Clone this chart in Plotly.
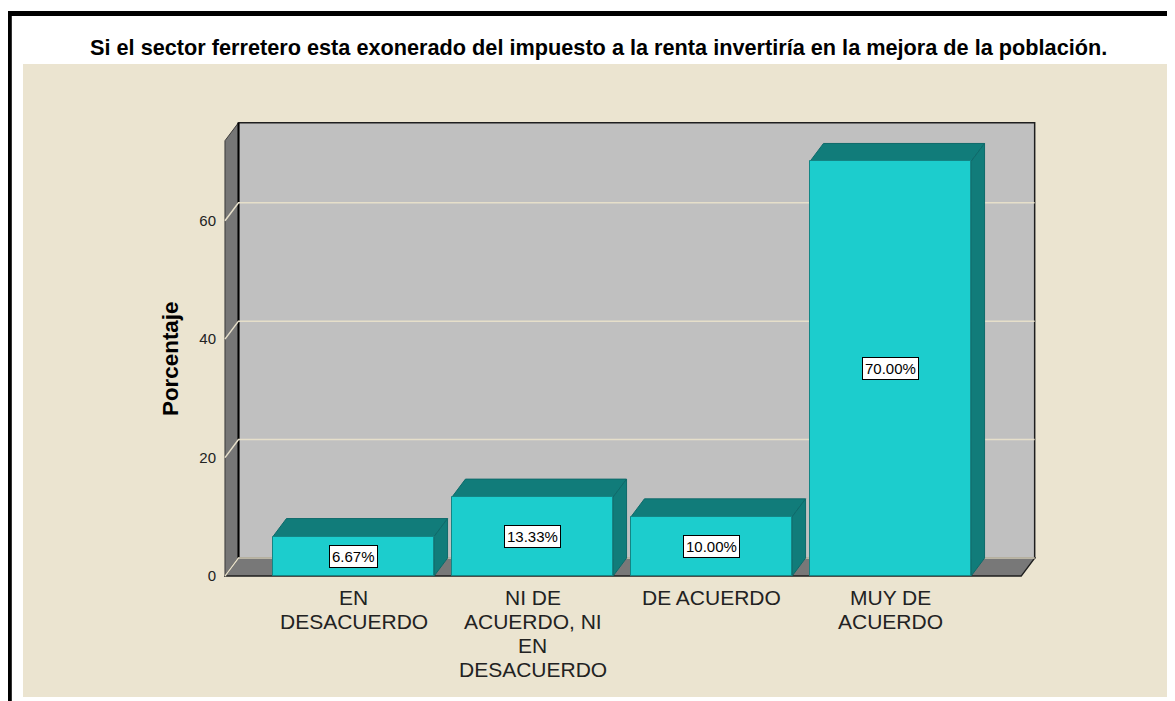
import plotly.graph_objects as go

# ---------------- data ----------------
title_text = "Si el sector ferretero esta exonerado del impuesto a la renta invertiría en la mejora de la población."
categories = ["EN\nDESACUERDO", "NI DE\nACUERDO, NI\nEN\nDESACUERDO", "DE ACUERDO", "MUY DE\nACUERDO"]
percentages = [6.67, 13.33, 10.00, 70.00]
y_ticks = [0, 20, 40, 60]
y_title = "Porcentaje"

# ---------------- layout constants ----------------
W, H = 1175, 701
PAGE_OFF = 8              # default body margin of the page
ML, MR, MT, MB = 216, 143, 112, 127
PW, PH = W - ML - MR, H - MT - MB
CAT_PX = 179.0            # pixels per category
FIRST_CENTER_PX = 353.5 - PAGE_OFF
XR = [(ML - FIRST_CENTER_PX) / CAT_PX, (W - MR - FIRST_CENTER_PX) / CAT_PX]
YR = [-1, 77]
PX_PER_Y = PH / (YR[1] - YR[0])
DX = 13.5 / CAT_PX        # depth offset (x units)
DY = 18.0 / PX_PER_Y      # depth offset (y units)
BAR_W = 0.9
FLOOR_X0, FLOOR_X1 = -0.718, 3.73
WALL_TOP = 73.5
LINE_PITCH = 24
CAT_FONT = 21

FONT = "Liberation Sans, Arial, sans-serif"
BEIGE = "#EBE4D0"
WALL = "#C0C0C0"
SIDE = "#767676"
FLOOR = "#787878"
EDGE = "#1E1E1E"
GRID = "#E6DFCA"
BAR_FRONT = "#1CCDCD"
BAR_DARK = "#117C7A"
BAR_EDGE = "#0E6A6A"


def px2x(px):
    """page pixel -> paper x"""
    return (px - PAGE_OFF - ML) / PW


def py2y(py):
    """page pixel -> paper y"""
    return (H - MB - (py - PAGE_OFF)) / PH


def poly(pts):
    return "M " + " L ".join(f"{x},{y}" for x, y in pts) + " Z"


shapes = []
# beige panel
shapes.append(dict(type="rect", xref="paper", yref="paper", layer="below",
                   x0=px2x(23), x1=px2x(1171), y0=py2y(697), y1=py2y(64),
                   fillcolor=BEIGE, line=dict(width=0)))
# black frame (left & top)
shapes.append(dict(type="line", xref="paper", yref="paper", layer="below",
                   x0=px2x(9.3), x1=px2x(9.3), y0=py2y(11), y1=py2y(H + 20),
                   line=dict(color="black", width=5)))
shapes.append(dict(type="line", xref="paper", yref="paper", layer="below",
                   x0=px2x(7), x1=px2x(W + 20), y0=py2y(13.5), y1=py2y(13.5),
                   line=dict(color="black", width=5)))

# back wall
shapes.append(dict(type="rect", xref="x", yref="y", layer="below",
                   x0=FLOOR_X0 + DX, x1=FLOOR_X1 + DX, y0=DY, y1=WALL_TOP + DY,
                   fillcolor=WALL, line=dict(color=EDGE, width=1.5)))
# side wall
shapes.append(dict(type="path", xref="x", yref="y", layer="below",
                   path=poly([(FLOOR_X0, 0), (FLOOR_X0 + DX, DY), (FLOOR_X0 + DX, WALL_TOP + DY),
                              (FLOOR_X0, WALL_TOP)]),
                   fillcolor=SIDE, line=dict(color="#3A3A3A", width=1)))
# dark edge between side wall and back wall
shapes.append(dict(type="line", xref="x", yref="y", layer="below",
                   x0=FLOOR_X0 + DX, x1=FLOOR_X0 + DX, y0=DY, y1=WALL_TOP + DY,
                   line=dict(color="black", width=2)))
# floor
shapes.append(dict(type="path", xref="x", yref="y", layer="below",
                   path=poly([(FLOOR_X0, 0), (FLOOR_X1, 0), (FLOOR_X1 + DX, DY), (FLOOR_X0 + DX, DY)]),
                   fillcolor=FLOOR, line=dict(color=EDGE, width=1.5)))
# grid lines (side wall diagonal + back wall)
for v in y_ticks:
    shapes.append(dict(type="path", xref="x", yref="y", layer="below",
                       path=f"M {FLOOR_X0},{v} L {FLOOR_X0 + DX},{v + DY} L {FLOOR_X1 + DX},{v + DY}",
                       line=dict(color=GRID, width=1.5)))

# 3D bar tops and sides
for i, v in enumerate(percentages):
    xl, xr = i - BAR_W / 2, i + BAR_W / 2
    shapes.append(dict(type="path", xref="x", yref="y", layer="below",
                       path=poly([(xl, v), (xl + DX, v + DY), (xr + DX, v + DY), (xr, v)]),
                       fillcolor=BAR_DARK, line=dict(color=BAR_EDGE, width=1)))
    shapes.append(dict(type="path", xref="x", yref="y", layer="below",
                       path=poly([(xr, 0), (xr + DX, DY), (xr + DX, v + DY), (xr, v)]),
                       fillcolor=BAR_DARK, line=dict(color=BAR_EDGE, width=1)))

fig = go.Figure()
fig.add_trace(go.Bar(
    x=list(range(len(percentages))), y=percentages, width=BAR_W,
    marker=dict(color=BAR_FRONT, line=dict(color="#138585", width=1)),
    hoverinfo="skip", showlegend=False,
))

annotations = []
# title
annotations.append(dict(xref="paper", yref="paper", x=px2x(598), y=py2y(47),
                        xanchor="center", yanchor="middle", showarrow=False,
                        text="<b>" + title_text + "</b>",
                        font=dict(family=FONT, size=21.7, color="black")))
# y title
annotations.append(dict(xref="paper", yref="paper", x=px2x(170), y=py2y(359),
                        xanchor="center", yanchor="middle", showarrow=False, textangle=-90,
                        text="<b>" + y_title + "</b>",
                        font=dict(family=FONT, size=22.4, color="black")))
# category labels (one annotation per line, tight line spacing)
for i, lab in enumerate(categories):
    for k, line in enumerate(lab.split("\n")):
        annotations.append(dict(xref="x", yref="y", x=i, y=0, yshift=-(21 + LINE_PITCH * k),
                                xanchor="center", yanchor="middle", showarrow=False,
                                text=line, font=dict(family=FONT, size=CAT_FONT, color="#222222")))
# value labels
for i, v in enumerate(percentages):
    annotations.append(dict(xref="x", yref="y", x=i, y=v / 2,
                            xanchor="center", yanchor="middle", showarrow=False,
                            text=f"{v:.2f}%", bgcolor="white", bordercolor="black",
                            borderwidth=1, borderpad=2,
                            font=dict(family=FONT, size=15, color="black")))

fig.update_layout(
    width=W, height=H,
    margin=dict(l=ML, r=MR, t=MT, b=MB, autoexpand=False),
    paper_bgcolor="white", plot_bgcolor="rgba(0,0,0,0)",
    shapes=shapes, annotations=annotations,
    xaxis=dict(range=XR, showgrid=False, zeroline=False, showline=False,
               showticklabels=False, ticks="", fixedrange=True),
    yaxis=dict(range=YR, showgrid=False, zeroline=False, showline=False,
               tickvals=y_ticks, ticktext=[str(t) for t in y_ticks],
               ticks="outside", ticklen=4, tickcolor="rgba(0,0,0,0)",
               tickfont=dict(family=FONT, size=15, color="#222222"), fixedrange=True),
    bargap=0,
)

fig.write_html("out.html")
